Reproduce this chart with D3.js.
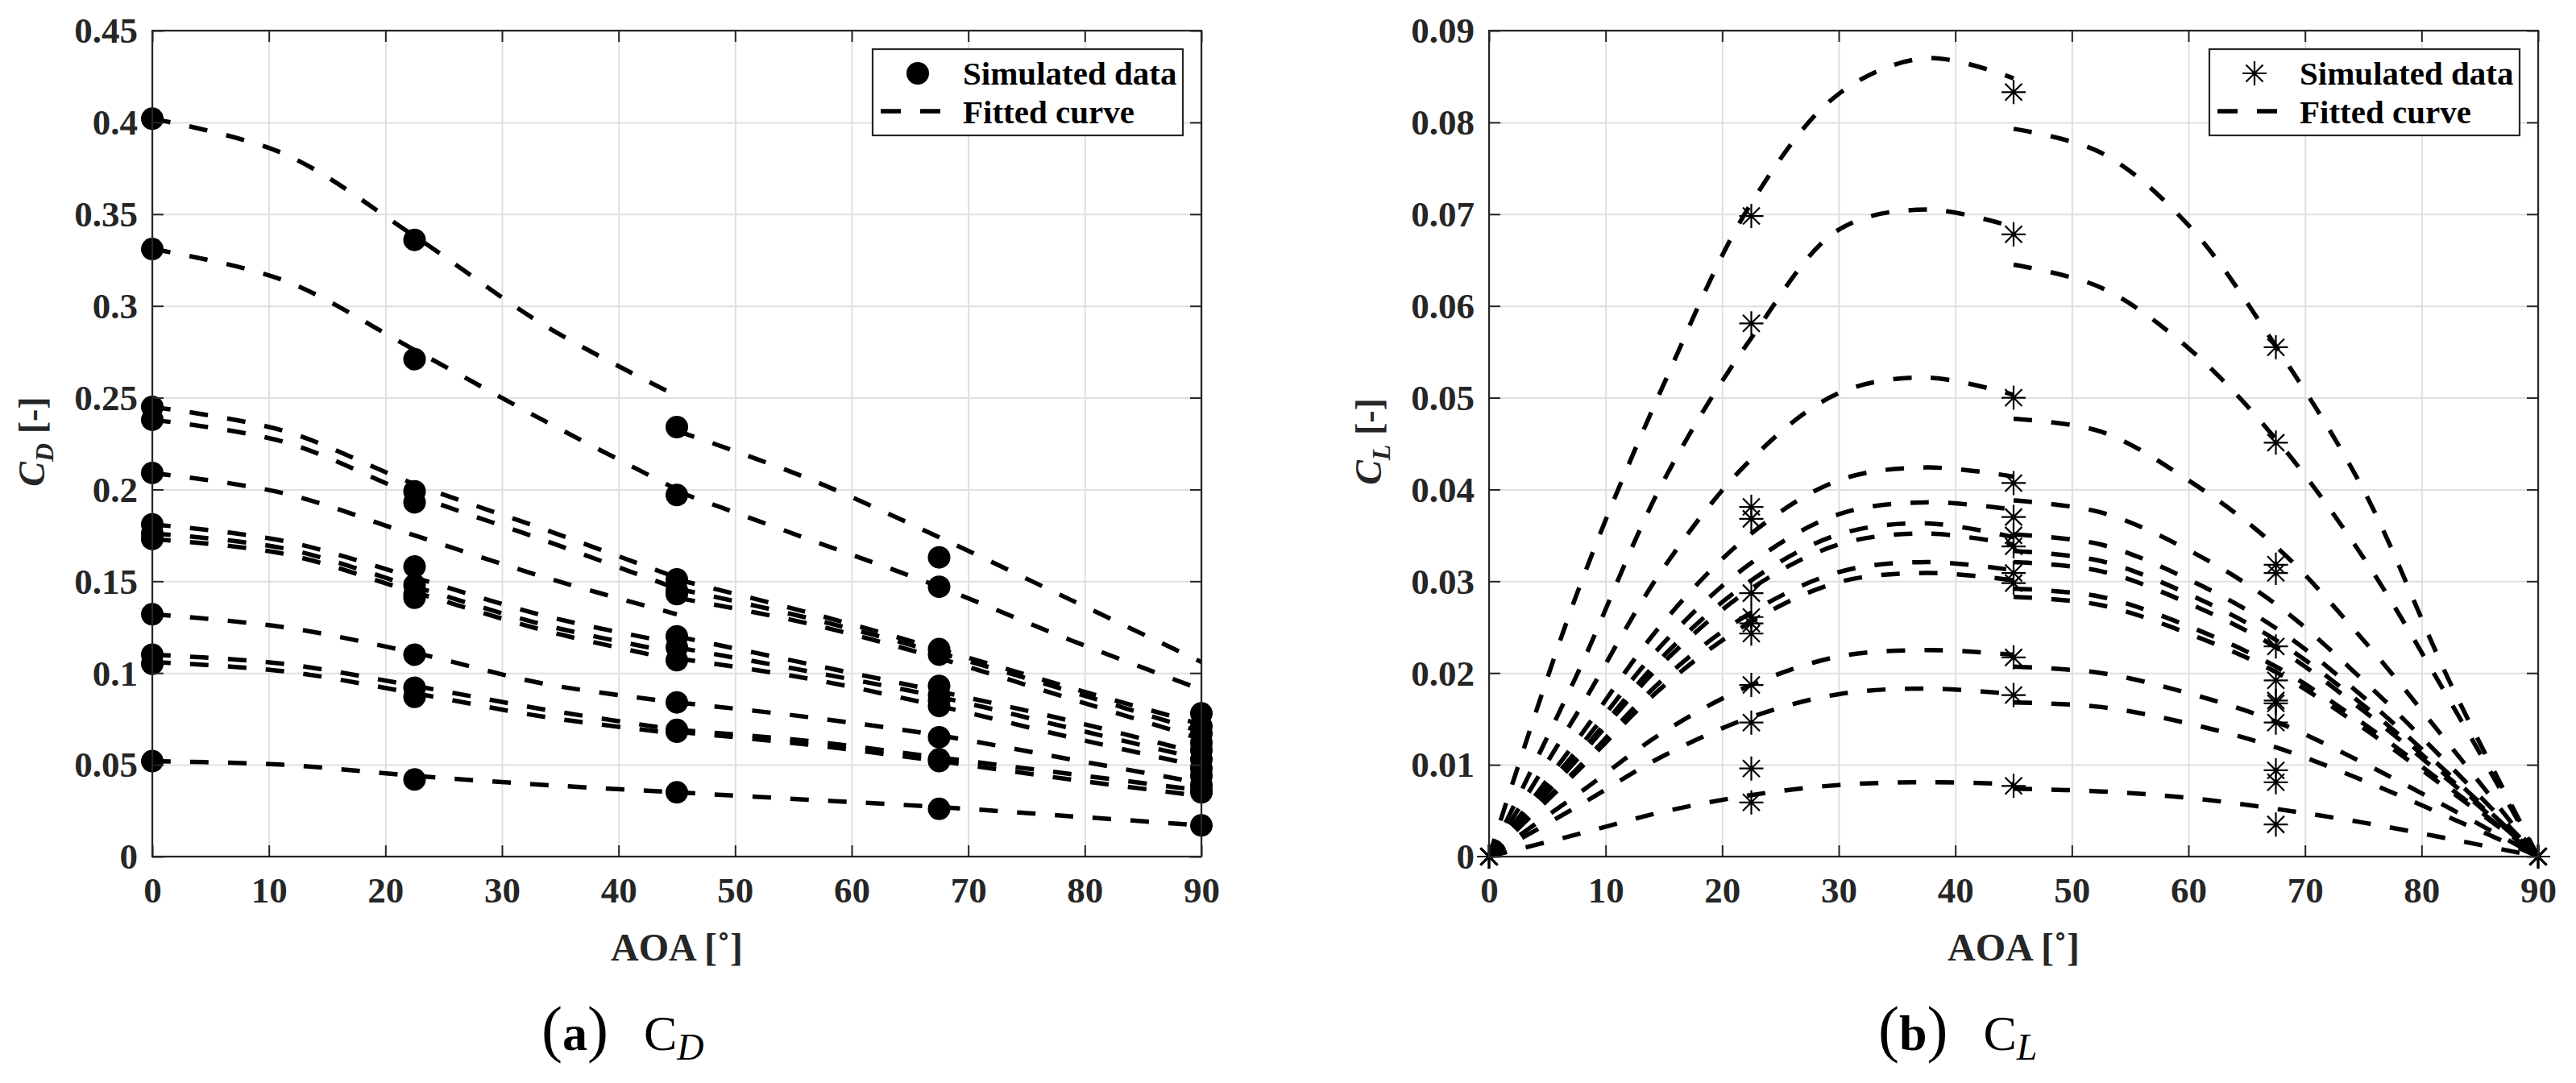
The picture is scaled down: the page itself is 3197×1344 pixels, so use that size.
<!DOCTYPE html>
<html>
<head>
<meta charset="utf-8">
<script src="https://cdn.jsdelivr.net/npm/d3@7"></script>
<style>
  body { margin: 0; background: #fff; }
  svg { display: block; }
</style>
</head>
<body>
<div id="chart"></div>
<script>
const aoaPts = [0, 22.5, 45, 67.5, 90];
const cdKnotsLeft = [0, 11.25, 22.5, 33.75, 45];
const cdKnotsRight = [45, 56.25, 67.5, 78.75, 90];
const clKnotsLeft = [0, 7.5, 15, 22.5, 30, 37.5, 45];
const clKnotsRight = [45, 52.5, 60, 67.5, 75, 82.5, 90];

const aoaTicks = [0, 10, 20, 30, 40, 50, 60, 70, 80, 90];
const cdTicks = [0, 0.05, 0.1, 0.15, 0.2, 0.25, 0.3, 0.35, 0.4, 0.45];
const clTicks = [0, 0.01, 0.02, 0.03, 0.04, 0.05, 0.06, 0.07, 0.08, 0.09];

const legendLabels = ["Simulated data", "Fitted curve"];

// C_D simulated values, one row per case, at aoaPts
const cdPoints = [
  [0.402, 0.336, 0.234, 0.163, 0.078],
  [0.331, 0.271, 0.197, 0.147, 0.071],
  [0.245, 0.199, 0.151, 0.113, 0.067],
  [0.238, 0.193, 0.145, 0.110, 0.062],
  [0.209, 0.158, 0.143, 0.093, 0.058],
  [0.181, 0.148, 0.120, 0.088, 0.053],
  [0.176, 0.143, 0.114, 0.085, 0.048],
  [0.173, 0.141, 0.107, 0.082, 0.044],
  [0.132, 0.110, 0.084, 0.065, 0.039],
  [0.110, 0.092, 0.069, 0.053, 0.036],
  [0.105, 0.087, 0.068, 0.052, 0.035],
  [0.052, 0.042, 0.035, 0.026, 0.017],
];

// fitted C_D, 0-45 piece
const cdFitLeft = [
  [0.402, 0.383, 0.338, 0.289, 0.251],
  [0.331, 0.314, 0.276, 0.237, 0.200],
  [0.245, 0.232, 0.203, 0.178, 0.152],
  [0.238, 0.226, 0.197, 0.172, 0.146],
  [0.209, 0.198, 0.175, 0.152, 0.132],
  [0.181, 0.172, 0.152, 0.131, 0.116],
  [0.176, 0.168, 0.147, 0.126, 0.111],
  [0.173, 0.165, 0.144, 0.123, 0.107],
  [0.132, 0.125, 0.111, 0.094, 0.084],
  [0.110, 0.105, 0.093, 0.080, 0.069],
  [0.106, 0.101, 0.089, 0.076, 0.067],
  [0.052, 0.050, 0.044, 0.039, 0.035],
];

// fitted C_D, 45-90 piece
const cdFitRight = [
  [0.232, 0.206, 0.174, 0.140, 0.106],
  [0.199, 0.173, 0.147, 0.118, 0.091],
  [0.151, 0.133, 0.113, 0.092, 0.072],
  [0.146, 0.130, 0.111, 0.090, 0.068],
  [0.141, 0.127, 0.108, 0.086, 0.064],
  [0.120, 0.105, 0.090, 0.074, 0.056],
  [0.114, 0.101, 0.087, 0.070, 0.053],
  [0.108, 0.097, 0.082, 0.065, 0.049],
  [0.084, 0.076, 0.066, 0.053, 0.040],
  [0.069, 0.063, 0.054, 0.045, 0.036],
  [0.068, 0.061, 0.052, 0.042, 0.033],
  [0.035, 0.031, 0.027, 0.022, 0.017],
];

// C_L simulated values at aoaPts
const clPoints = [
  [0, 0.0698, 0.0833, 0.0555, 0],
  [0, 0.0581, 0.0678, 0.0451, 0],
  [0, 0.0381, 0.0500, 0.0318, 0],
  [0, 0.0368, 0.0407, 0.0309, 0],
  [0, 0.0287, 0.0370, 0.0229, 0],
  [0, 0.0261, 0.0350, 0.0192, 0],
  [0, 0.0254, 0.0338, 0.0170, 0],
  [0, 0.0243, 0.0309, 0.0167, 0],
  [0, 0.0187, 0.0298, 0.0146, 0],
  [0, 0.0146, 0.0217, 0.0094, 0],
  [0, 0.0096, 0.0176, 0.0081, 0],
  [0, 0.0059, 0.0077, 0.0035, 0],
];

// fitted C_L, 0-45 piece
const clFitLeft = [
  [0, 0.0285, 0.0515, 0.0712, 0.0831, 0.0870, 0.0848],
  [0, 0.0197, 0.0410, 0.0565, 0.0683, 0.0705, 0.0686],
  [0, 0.0155, 0.0315, 0.0433, 0.0505, 0.0522, 0.0503],
  [0, 0.0126, 0.0256, 0.0352, 0.0410, 0.0424, 0.0414],
  [0, 0.0115, 0.0233, 0.0320, 0.0373, 0.0386, 0.0378],
  [0, 0.0108, 0.0219, 0.0301, 0.0351, 0.0363, 0.0348],
  [0, 0.0105, 0.0212, 0.0292, 0.0340, 0.0352, 0.0340],
  [0, 0.0095, 0.0194, 0.0266, 0.0310, 0.0321, 0.0312],
  [0, 0.0092, 0.0186, 0.0256, 0.0299, 0.0309, 0.0301],
  [0, 0.0067, 0.0136, 0.0187, 0.0218, 0.0225, 0.0220],
  [0, 0.0054, 0.0110, 0.0152, 0.0177, 0.0183, 0.0177],
  [0, 0.0024, 0.0049, 0.0067, 0.0078, 0.0081, 0.0079],
];

// fitted C_L, 45-90 piece
const clFitRight = [
  [0.0793, 0.0767, 0.0688, 0.0556, 0.0400, 0.0188, 0],
  [0.0645, 0.0620, 0.0554, 0.0455, 0.0326, 0.0168, 0],
  [0.0477, 0.0463, 0.0410, 0.0338, 0.0236, 0.0120, 0],
  [0.0388, 0.0375, 0.0334, 0.0275, 0.0192, 0.0098, 0],
  [0.0351, 0.0340, 0.0302, 0.0249, 0.0174, 0.0088, 0],
  [0.0333, 0.0322, 0.0286, 0.0236, 0.0165, 0.0084, 0],
  [0.0321, 0.0311, 0.0276, 0.0228, 0.0159, 0.0081, 0],
  [0.0292, 0.0283, 0.0251, 0.0207, 0.0145, 0.0074, 0],
  [0.0283, 0.0274, 0.0243, 0.0201, 0.0140, 0.0071, 0],
  [0.0207, 0.0200, 0.0178, 0.0147, 0.0102, 0.0052, 0],
  [0.0168, 0.0163, 0.0145, 0.0119, 0.0083, 0.0042, 0],
  [0.0074, 0.0071, 0.0064, 0.0052, 0.0037, 0.0019, 0],
];

const W = 3197, H = 1344;
const plotTop = 38, plotBottom = 1063;
const serif = "'Liberation Serif', 'Times New Roman', serif";
const ink = "#262626";

// matlab '*' marker
const starPath = "M0,-15V15M-15,0H15M-10.5,-10.5L10.5,10.5M-10.5,10.5L10.5,-10.5";

const svg = d3
  .select("#chart")
  .append("svg")
  .attr("width", W)
  .attr("height", H)
  .style("font-family", serif);

const drawMarker = (g, kind, cx, cy) => {
  if (kind == "circle") {
    g.append("circle").attr("cx", cx).attr("cy", cy).attr("r", 14).attr("fill", "#000");
  } else {
    g.append("path")
      .attr("d", starPath)
      .attr("transform", `translate(${cx},${cy})`)
      .attr("fill", "none")
      .attr("stroke", "#000")
      .attr("stroke-width", 2.2);
  }
};

const panel = (opts) => {
  const x = d3.scaleLinear().domain([0, 90]).range([opts.left, opts.right]);
  const y = d3.scaleLinear().domain([0, opts.ymax]).range([plotBottom, plotTop]);
  const g = svg.append("g");
  const plotW = opts.right - opts.left, plotH = plotBottom - plotTop;

  // grid
  g.append("g")
    .attr("transform", `translate(0,${plotBottom})`)
    .call(d3.axisBottom(x).tickValues(aoaTicks).tickSize(-plotH).tickFormat(""))
    .call((a) => a.select(".domain").remove())
    .call((a) => a.selectAll("line").attr("stroke", "#dfdfdf").attr("stroke-width", 2));
  g.append("g")
    .attr("transform", `translate(${opts.left},0)`)
    .call(d3.axisLeft(y).tickValues(opts.ticks).tickSize(-plotW).tickFormat(""))
    .call((a) => a.select(".domain").remove())
    .call((a) => a.selectAll("line").attr("stroke", "#dfdfdf").attr("stroke-width", 2));

  const line = d3
    .line()
    .x((d) => x(d[0]))
    .y((d) => y(d[1]))
    .curve(d3.curveCatmullRom.alpha(0.5));

  const pieces = [];
  opts.fitLeft.forEach((row) => pieces.push(row.map((v, i) => [opts.knotsLeft[i], v])));
  opts.fitRight.forEach((row) => pieces.push(row.map((v, i) => [opts.knotsRight[i], v])));

  g.append("g")
    .selectAll("path")
    .data(pieces)
    .join("path")
    .attr("fill", "none")
    .attr("stroke", "#000")
    .attr("stroke-width", 5.5)
    .attr("stroke-dasharray", "23,24")
    .attr("d", (d) => line(d));

  const pts = g.append("g");
  opts.points.forEach((row) =>
    row.forEach((v, i) => drawMarker(pts, opts.marker, x(aoaPts[i]), y(v)))
  );

  // box and inward ticks on all four sides
  const tickStyle = (a) => {
    a.select(".domain").remove();
    a.selectAll("line").attr("stroke", ink).attr("stroke-width", 2);
  };
  g.append("g").attr("transform", `translate(0,${plotBottom})`)
    .call(d3.axisBottom(x).tickValues(aoaTicks).tickSize(-14).tickFormat("")).call(tickStyle);
  g.append("g").attr("transform", `translate(0,${plotTop})`)
    .call(d3.axisTop(x).tickValues(aoaTicks).tickSize(-14).tickFormat("")).call(tickStyle);
  g.append("g").attr("transform", `translate(${opts.left},0)`)
    .call(d3.axisLeft(y).tickValues(opts.ticks).tickSize(-14).tickFormat("")).call(tickStyle);
  g.append("g").attr("transform", `translate(${opts.right},0)`)
    .call(d3.axisRight(y).tickValues(opts.ticks).tickSize(-14).tickFormat("")).call(tickStyle);
  g.append("rect")
    .attr("x", opts.left).attr("y", plotTop)
    .attr("width", plotW).attr("height", plotH)
    .attr("fill", "none").attr("stroke", ink).attr("stroke-width", 2.2);

  // tick labels
  g.append("g").attr("transform", `translate(0,${plotBottom})`)
    .call(d3.axisBottom(x).tickValues(aoaTicks).tickSize(0).tickFormat(d3.format("d")))
    .call((a) => a.select(".domain").remove())
    .call((a) => a.selectAll("text")
      .attr("y", 57).attr("dy", null)
      .attr("font-family", serif).attr("font-size", 45).attr("font-weight", "bold").attr("fill", ink));
  g.append("g").attr("transform", `translate(${opts.left},0)`)
    .call(d3.axisLeft(y).tickValues(opts.ticks).tickSize(0).tickPadding(18).tickFormat((d) => d3.format("~g")(+d.toFixed(2))))
    .call((a) => a.select(".domain").remove())
    .call((a) => a.selectAll("text")
      .attr("dy", "0.33em")
      .attr("font-family", serif).attr("font-size", 45).attr("font-weight", "bold").attr("fill", ink));

  // axis titles
  g.append("text")
    .attr("x", (opts.left + opts.right) / 2)
    .attr("y", 1192)
    .attr("text-anchor", "middle")
    .attr("font-size", 48)
    .attr("font-weight", "bold")
    .attr("fill", ink)
    .text("AOA [˚]");

  const yl = g.append("text")
    .attr("transform", `translate(${opts.left - 134},548) rotate(-90)`)
    .attr("text-anchor", "middle")
    .attr("font-size", 46)
    .attr("font-weight", "bold")
    .attr("fill", ink);
  yl.append("tspan").attr("font-style", "italic").text("C");
  yl.append("tspan").attr("font-style", "italic").attr("font-size", 32).attr("dy", 11).text(opts.sub);
  yl.append("tspan").attr("dy", -11).text(" [-]");

  // legend
  const lx = opts.right - 408, ly = 61;
  const leg = g.append("g");
  leg.append("rect")
    .attr("x", lx).attr("y", ly).attr("width", 385).attr("height", 107)
    .attr("fill", "#fff").attr("stroke", ink).attr("stroke-width", 2.2);
  drawMarker(leg, opts.marker, lx + 56, ly + 30);
  leg.append("line")
    .attr("x1", lx + 10).attr("x2", lx + 84)
    .attr("y1", ly + 77).attr("y2", ly + 77)
    .attr("stroke", "#000").attr("stroke-width", 5.5).attr("stroke-dasharray", "25,24");
  leg.selectAll("text.leg")
    .data(legendLabels)
    .join("text")
    .attr("class", "leg")
    .attr("x", lx + 112)
    .attr("y", (d, i) => ly + 44 + 48 * i)
    .attr("font-size", 41)
    .attr("font-weight", "bold")
    .attr("fill", "#000")
    .text((d) => d);

  // sub-figure caption
  const cap = g.append("text")
    .attr("x", (opts.left + opts.right) / 2 - 168)
    .attr("y", 1303)
    .attr("fill", "#000");
  cap.append("tspan").attr("font-size", 78).text("(");
  cap.append("tspan").attr("font-size", 62).attr("font-weight", "bold").text(opts.tag);
  cap.append("tspan").attr("font-size", 78).text(")");
  cap.append("tspan").attr("font-size", 62).attr("dx", 44).text("C");
  cap.append("tspan").attr("font-size", 46).attr("font-style", "italic").attr("dy", 12).text(opts.sub);
};

panel({
  left: 189, right: 1491, ymax: 0.45, ticks: cdTicks,
  points: cdPoints, fitLeft: cdFitLeft, fitRight: cdFitRight,
  knotsLeft: cdKnotsLeft, knotsRight: cdKnotsRight,
  marker: "circle", sub: "D", tag: "a",
});

panel({
  left: 1848, right: 3150, ymax: 0.09, ticks: clTicks,
  points: clPoints, fitLeft: clFitLeft, fitRight: clFitRight,
  knotsLeft: clKnotsLeft, knotsRight: clKnotsRight,
  marker: "star", sub: "L", tag: "b",
});
</script>
</body>
</html>
